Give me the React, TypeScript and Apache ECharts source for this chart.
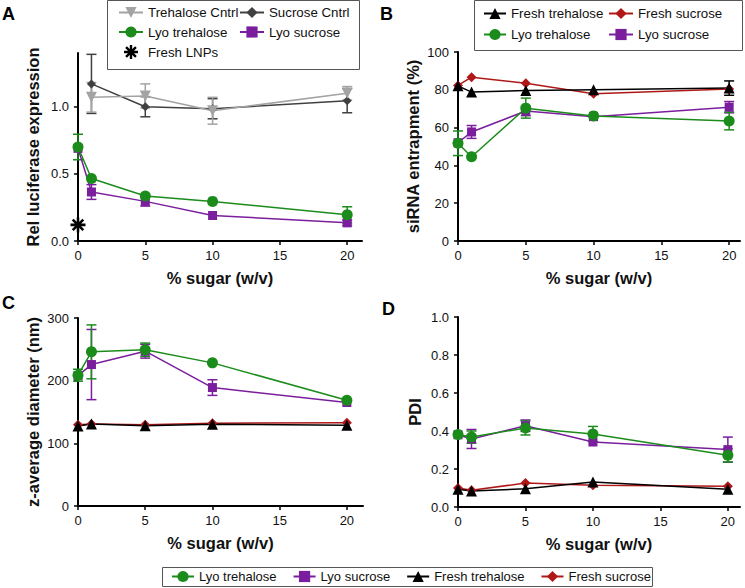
import React, { useEffect, useRef } from 'react';
import * as echarts from 'echarts';

const sugar = [0, 1, 5, 10, 20];
const xTicks = [0, 5, 10, 15, 20];

// Panel A – Rel luciferase expression
const aTrehaloseCntrl = [null, 1.07, 1.08, 0.97, 1.10];
const aTrehaloseCntrlErr = [0, 0.11, 0.09, 0.10, 0.05];
const aSucroseCntrl = [null, 1.17, 1.0, 0.985, 1.045];
const aSucroseCntrlErr = [0, 0.22, 0.075, 0.075, 0.09];
const aLyoTrehalose = [0.70, 0.465, 0.335, 0.295, 0.195];
const aLyoTrehaloseErr = [0.095, 0, 0, 0, 0.06];
const aLyoSucrose = [0.69, 0.365, 0.295, 0.19, 0.135];
const aLyoSucroseErr = [0, 0.055, 0.035, 0, 0.02];
const aFreshLNPs = [0.12];

// Panel B – siRNA entrapment (%)
const bFreshTrehalose = [82.1, 78.8, 79.6, 80.0, 80.9];
const bFreshTrehaloseErr = [0, 0, 0, 0, 3.8];
const bFreshSucrose = [82.3, 86.7, 83.5, 77.9, 80.4];
const bFreshSucroseErr = [0, 0, 0, 0, 0];
const bLyoTrehalose = [51.7, 44.6, 70.3, 66.2, 63.5];
const bLyoTrehaloseErr = [6.5, 0, 5.3, 0, 4.7];
const bLyoSucrose = [52, 57.7, 68.8, 65.8, 70.8];
const bLyoSucroseErr = [0, 3.4, 2.5, 0, 3.0];

// Panel C – z-average diameter (nm)
const cLyoTrehalose = [208.7, 246, 249.5, 228.4, 168.9];
const cLyoTrehaloseErr = [9.5, 43, 10.5, 0, 0];
const cLyoSucrose = [208, 225.7, 247, 189, 165.2];
const cLyoSucroseErr = [0, 56, 11, 12.5, 0];
const cFreshTrehalose = [127.5, 131, 128, 130.5, 129];
const cFreshSucrose = [129.6, 131, 129.6, 132, 133];

// Panel D – PDI
const dLyoTrehalose = [0.381, 0.368, 0.416, 0.384, 0.272];
const dLyoTrehaloseErr = [0, 0.032, 0.037, 0.04, 0.035];
const dLyoSucrose = [0.38, 0.358, 0.428, 0.342, 0.302];
const dLyoSucroseErr = [0, 0.05, 0.03, 0, 0.066];
const dFreshTrehalose = [0.093, 0.084, 0.096, 0.131, 0.093];
const dFreshSucrose = [0.10, 0.088, 0.126, 0.114, 0.109];

const FONT = 'Liberation Sans, Arial, Helvetica, sans-serif';
const GREEN = '#1b8c1b';
const PURPLE = '#7a1e9e';
const RED = '#b01818';
const BLACK = '#000000';
const LIGHT = '#a3a3a3';
const DARK = '#404040';

const ASTERISK =
  'path://M8.3 0L11.7 0L11.7 20L8.3 20ZM0 8.3L20 8.3L20 11.7L0 11.7ZM1.73 4.13L4.13 1.73L18.27 15.87L15.87 18.27ZM15.87 1.73L18.27 4.13L4.13 18.27L1.73 15.87Z';

type Sty = { color: string; symbol: string; size: number; rotate?: number };
const STY: Record<string, Sty> = {
  'Trehalose Cntrl': { color: LIGHT, symbol: 'triangle', size: 11, rotate: 180 },
  'Sucrose Cntrl': { color: DARK, symbol: 'diamond', size: 9 },
  'Lyo trehalose': { color: GREEN, symbol: 'circle', size: 11 },
  'Lyo sucrose': { color: PURPLE, symbol: 'rect', size: 9 },
  'Fresh trehalose': { color: BLACK, symbol: 'triangle', size: 11 },
  'Fresh sucrose': { color: RED, symbol: 'diamond', size: 10 },
};

function pts(vals: (number | null)[]) {
  const out: number[][] = [];
  vals.forEach((v, i) => {
    if (v !== null) out.push([sugar[i], v]);
  });
  return out;
}

function lineSeries(name: string, vals: (number | null)[], gi: number) {
  const s = STY[name];
  return {
    type: 'line',
    name,
    xAxisIndex: gi,
    yAxisIndex: gi,
    data: pts(vals),
    symbol: s.symbol,
    symbolSize: s.size,
    symbolRotate: s.rotate || 0,
    showAllSymbol: true,
    clip: false,
    z: 3,
    itemStyle: { color: s.color, opacity: 1 },
    lineStyle: { color: s.color, width: 1.5 },
  };
}

function errSeries(name: string, vals: (number | null)[], errs: number[], gi: number) {
  const color = STY[name].color;
  const data: number[][] = [];
  vals.forEach((v, i) => {
    if (v !== null && errs[i] > 0) data.push([sugar[i], v - errs[i], v + errs[i]]);
  });
  return {
    type: 'custom',
    name: name + ' err',
    xAxisIndex: gi,
    yAxisIndex: gi,
    data,
    clip: false,
    z: 2,
    encode: { x: 0, y: [1, 2] },
    renderItem: (_p: any, api: any) => {
      const x = api.value(0);
      const a = api.coord([x, api.value(2)]);
      const b = api.coord([x, api.value(1)]);
      const hw = 5;
      const st = { stroke: color, lineWidth: 1.5 };
      return {
        type: 'group',
        children: [
          { type: 'line', shape: { x1: a[0], y1: a[1], x2: b[0], y2: b[1] }, style: st },
          { type: 'line', shape: { x1: a[0] - hw, y1: a[1], x2: a[0] + hw, y2: a[1] }, style: st },
          { type: 'line', shape: { x1: b[0] - hw, y1: b[1], x2: b[0] + hw, y2: b[1] }, style: st },
        ],
      };
    },
  };
}

function xAxis(gi: number, max: number) {
  return {
    type: 'value',
    gridIndex: gi,
    min: 0,
    max,
    name: '% sugar (w/v)',
    nameLocation: 'middle',
    nameGap: 28,
    nameTextStyle: { fontFamily: FONT, fontWeight: 'bold', fontSize: 16.5, color: '#111' },
    axisLine: { show: true, lineStyle: { color: '#000', width: 2 } },
    axisTick: { show: true, length: 4, lineStyle: { color: '#000', width: 1.5 }, customValues: xTicks },
    axisLabel: { customValues: xTicks, margin: 8, fontFamily: FONT, fontSize: 13, color: '#111' },
    splitLine: { show: false },
  };
}

function yAxis(gi: number, name: string, max: number, ticks: number[], digits: number, gap: number) {
  return {
    type: 'value',
    gridIndex: gi,
    min: 0,
    max,
    name,
    nameLocation: 'middle',
    nameGap: gap,
    nameTextStyle: { fontFamily: FONT, fontWeight: 'bold', fontSize: 16.5, color: '#111' },
    axisLine: { show: true, lineStyle: { color: '#000', width: 2 } },
    axisTick: { show: true, length: 4, lineStyle: { color: '#000', width: 1.5 }, customValues: ticks },
    axisLabel: {
      customValues: ticks,
      margin: 9,
      fontFamily: FONT,
      fontSize: 13,
      color: '#111',
      formatter: (v: number) => v.toFixed(digits),
    },
    splitLine: { show: false },
  };
}

const legendText = { fontFamily: FONT, fontSize: 13.3, color: '#111' };
const bottomLegendText = { fontFamily: FONT, fontSize: 13, color: '#111' };

export default function App() {
  const ref = useRef<HTMLDivElement>(null);
  useEffect(() => {
    if (!ref.current) return;
    const chart = echarts.init(ref.current, null, { renderer: 'svg' });
    const option: any = {
      animation: false,
      backgroundColor: '#fff',
      grid: [
        { left: 78, top: 53, width: 284, height: 188, outerBoundsMode: 'none' },
        { left: 458, top: 52, width: 282, height: 189, outerBoundsMode: 'none' },
        { left: 78, top: 318, width: 285, height: 188, outerBoundsMode: 'none' },
        { left: 458, top: 317, width: 282, height: 190, outerBoundsMode: 'none' },
      ],
      xAxis: [xAxis(0, 21.1), xAxis(1, 20.8), xAxis(2, 21.2), xAxis(3, 20.9)],
      yAxis: [
        yAxis(0, 'Rel luciferase expression', 1.4, [0, 0.5, 1.0], 1, 37),
        yAxis(1, 'siRNA entrapment (%)', 100, [0, 20, 40, 60, 80, 100], 0, 37),
        yAxis(2, 'z-average diameter (nm)', 300, [0, 100, 200, 300], 0, 37),
        yAxis(3, 'PDI', 1, [0, 0.2, 0.4, 0.6, 0.8, 1.0], 1, 35),
      ],
      legend: [
        {
          data: ['Trehalose Cntrl', 'Lyo trehalose', { name: 'Fresh LNPs', icon: ASTERISK, itemStyle: { color: '#000', opacity: 1 } }],
          orient: 'vertical', left: 118, top: 6, itemWidth: 24, itemHeight: 14, itemGap: 6.5,
          padding: 0, selectedMode: false, textStyle: legendText,
        },
        {
          data: ['Sucrose Cntrl', 'Lyo sucrose'],
          orient: 'vertical', left: 239, top: 6, itemWidth: 24, itemHeight: 14, itemGap: 6.5,
          padding: 0, selectedMode: false, textStyle: legendText,
        },
        {
          data: ['Fresh trehalose', 'Lyo trehalose'],
          orient: 'vertical', left: 483, top: 7, itemWidth: 22, itemHeight: 14, itemGap: 8,
          padding: 0, selectedMode: false, textStyle: legendText,
        },
        {
          data: ['Fresh sucrose', 'Lyo sucrose'],
          orient: 'vertical', left: 608, top: 7, itemWidth: 24, itemHeight: 14, itemGap: 8,
          padding: 0, selectedMode: false, textStyle: legendText,
        },
        {
          data: ['Lyo trehalose', 'Lyo sucrose', 'Fresh trehalose', 'Fresh sucrose'],
          orient: 'horizontal', left: 171, top: 570, itemWidth: 22, itemHeight: 14, itemGap: 16,
          padding: 0, selectedMode: false, textStyle: bottomLegendText,
        },
      ],
      graphic: [
        { type: 'rect', shape: { x: 107.5, y: 0.5, width: 252, height: 69 }, style: { fill: 'none', stroke: '#555', lineWidth: 1 } },
        { type: 'rect', shape: { x: 474.5, y: 0.5, width: 268, height: 50 }, style: { fill: 'none', stroke: '#555', lineWidth: 1 } },
        { type: 'rect', shape: { x: 162.5, y: 567.5, width: 490, height: 19 }, style: { fill: 'none', stroke: '#555', lineWidth: 1 } },
        { type: 'text', left: 2, top: 5, style: { text: 'A', font: `bold 18px ${FONT}`, fill: '#000' } },
        { type: 'text', left: 380, top: 5, style: { text: 'B', font: `bold 18px ${FONT}`, fill: '#000' } },
        { type: 'text', left: 2, top: 294, style: { text: 'C', font: `bold 18px ${FONT}`, fill: '#000' } },
        { type: 'text', left: 382, top: 300, style: { text: 'D', font: `bold 18px ${FONT}`, fill: '#000' } },
      ],
      series: [
        // A
        errSeries('Lyo sucrose', aLyoSucrose, aLyoSucroseErr, 0),
        errSeries('Lyo trehalose', aLyoTrehalose, aLyoTrehaloseErr, 0),
        errSeries('Sucrose Cntrl', aSucroseCntrl, aSucroseCntrlErr, 0),
        errSeries('Trehalose Cntrl', aTrehaloseCntrl, aTrehaloseCntrlErr, 0),
        lineSeries('Lyo sucrose', aLyoSucrose, 0),
        lineSeries('Lyo trehalose', aLyoTrehalose, 0),
        lineSeries('Sucrose Cntrl', aSucroseCntrl, 0),
        lineSeries('Trehalose Cntrl', aTrehaloseCntrl, 0),
        {
          type: 'scatter',
          name: 'Fresh LNPs',
          xAxisIndex: 0,
          yAxisIndex: 0,
          data: aFreshLNPs.map((v) => [0, v]),
          symbol: ASTERISK,
          symbolSize: 15,
          clip: false,
          z: 4,
          itemStyle: { color: BLACK, opacity: 1 },
        },
        // B
        errSeries('Lyo sucrose', bLyoSucrose, bLyoSucroseErr, 1),
        errSeries('Lyo trehalose', bLyoTrehalose, bLyoTrehaloseErr, 1),
        errSeries('Fresh sucrose', bFreshSucrose, bFreshSucroseErr, 1),
        errSeries('Fresh trehalose', bFreshTrehalose, bFreshTrehaloseErr, 1),
        lineSeries('Lyo sucrose', bLyoSucrose, 1),
        lineSeries('Lyo trehalose', bLyoTrehalose, 1),
        lineSeries('Fresh sucrose', bFreshSucrose, 1),
        lineSeries('Fresh trehalose', bFreshTrehalose, 1),
        // C
        errSeries('Lyo sucrose', cLyoSucrose, cLyoSucroseErr, 2),
        errSeries('Lyo trehalose', cLyoTrehalose, cLyoTrehaloseErr, 2),
        lineSeries('Lyo sucrose', cLyoSucrose, 2),
        lineSeries('Lyo trehalose', cLyoTrehalose, 2),
        lineSeries('Fresh sucrose', cFreshSucrose, 2),
        lineSeries('Fresh trehalose', cFreshTrehalose, 2),
        // D
        errSeries('Lyo sucrose', dLyoSucrose, dLyoSucroseErr, 3),
        errSeries('Lyo trehalose', dLyoTrehalose, dLyoTrehaloseErr, 3),
        lineSeries('Lyo sucrose', dLyoSucrose, 3),
        lineSeries('Lyo trehalose', dLyoTrehalose, 3),
        lineSeries('Fresh sucrose', dFreshSucrose, 3),
        lineSeries('Fresh trehalose', dFreshTrehalose, 3),
      ],
    };
    chart.setOption(option);
    return () => chart.dispose();
  }, []);
  return (
    <div
      ref={ref}
      style={{ position: 'fixed', left: 0, top: 0, width: 745, height: 588, background: '#fff' }}
    />
  );
}
